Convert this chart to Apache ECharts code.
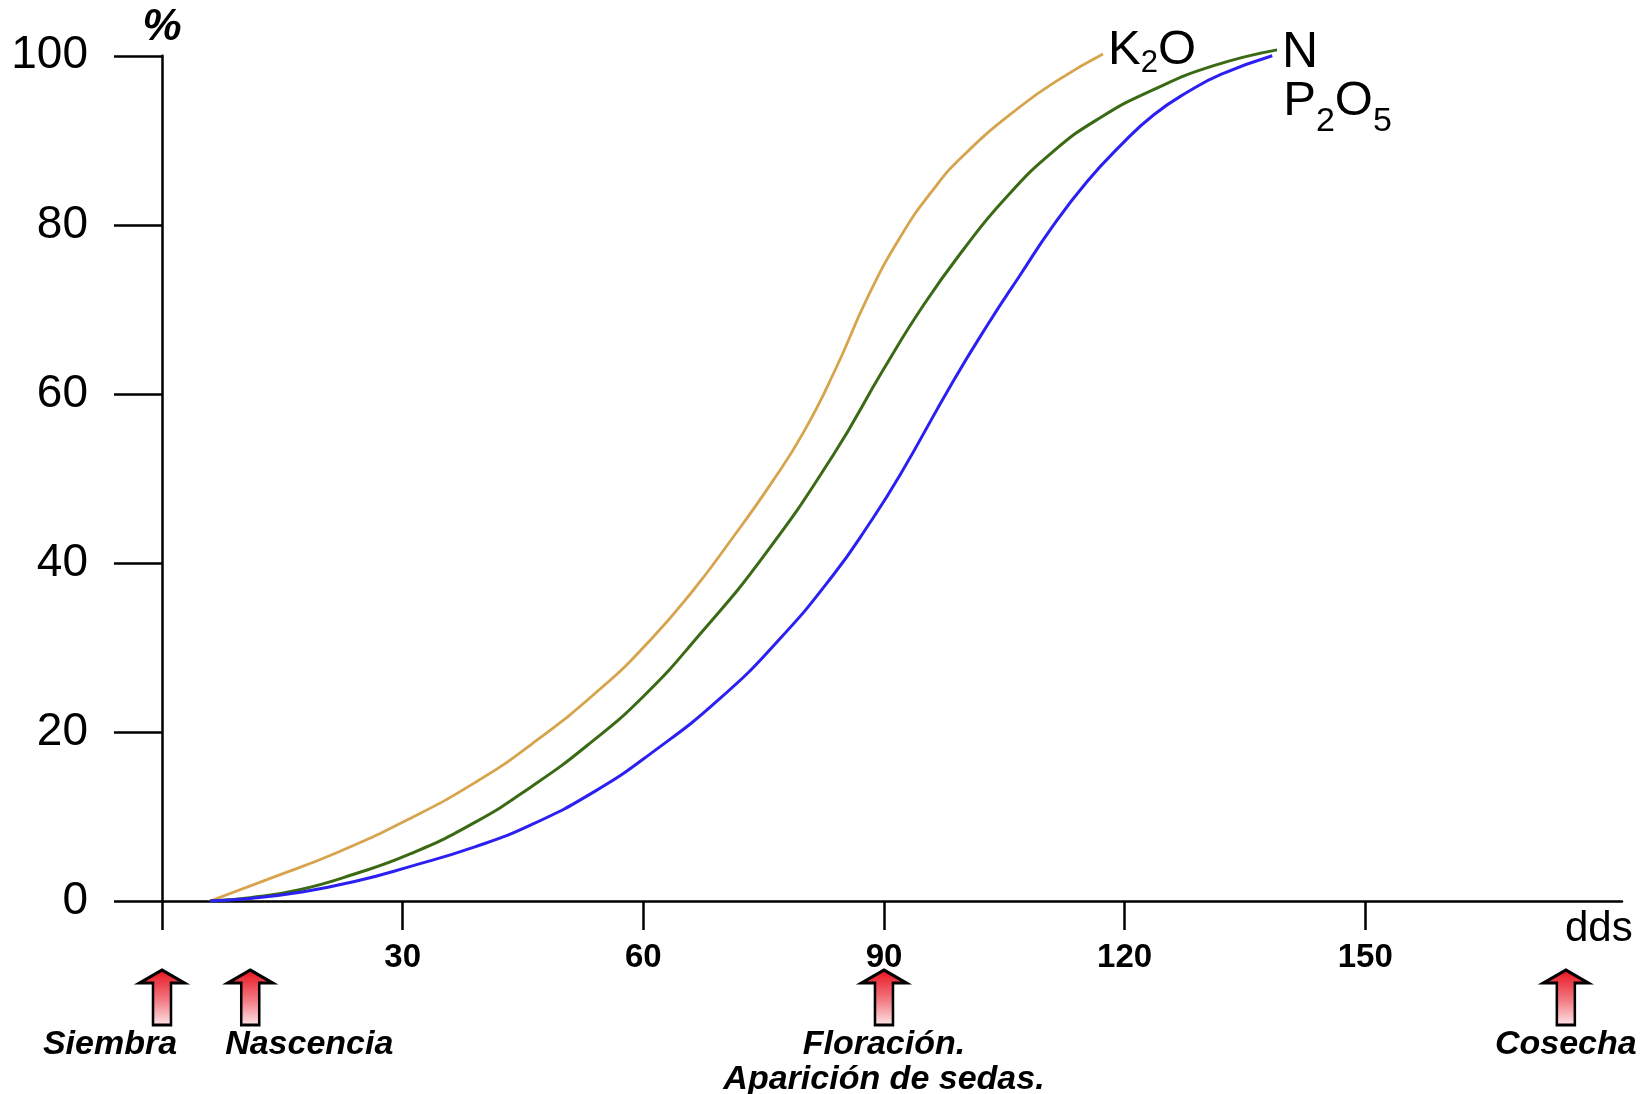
<!DOCTYPE html>
<html>
<head>
<meta charset="utf-8">
<script src="https://cdn.jsdelivr.net/npm/echarts@6/dist/echarts.min.js"></script>
<style>
html,body{margin:0;padding:0;background:#ffffff;}
#chart{width:1646px;height:1094px;}
</style>
</head>
<body>
<div id="chart"></div>
<script>
// ---- data ----
const xTickValues = [0, 30, 60, 90, 120, 150];
const xLabelValues = [30, 60, 90, 120, 150];
const yTickValues = [0, 20, 40, 60, 80, 100];

const k2oData = [[6,0],[13,2.5],[22,5.8],[31,9.8],[39,14],[46,18.5],[55,25.4],[61,31],[66,36.5],[71,42.8],[76,49.5],[80,55.5],[84,63],[88,71.5],[92,78.5],[96,84],[100,88.3],[107,94],[112,97.3],[117.3,100.2]];
const nData = [[6,0],[11,0.4],[17,1.3],[24,3.2],[31,5.6],[39,9.3],[46,13.5],[53,18.4],[60,24.2],[67,31.5],[75,40.8],[83.7,52.8],[90,63],[95,70.6],[100,77.2],[105,83],[111,88.6],[117,92.7],[123.6,96.0],[131,98.8],[139,100.7]];
const p2o5Data = [[6,0],[11,0.3],[17,1.0],[24,2.3],[31,4.1],[39,6.4],[46,9.0],[54,13],[61,17.5],[69.6,24],[77,31],[83.7,38.6],[88,44.4],[92,50.4],[98.5,61.3],[103,68.3],[107,74.1],[111,79.8],[115.3,85.1],[119.5,89.4],[123.6,93.0],[128,95.8],[132,97.8],[138.4,100]];

const stageDays = [0, 11, 90, 175];
const stageNames = ['Siembra', 'Nascencia', 'Floración.\nAparición de sedas.', 'Cosecha'];
const stageLabelShift = [-52, 59, 0, 0];

const xName = 'dds';
const yName = '%';

// ---- chart ----
const F = '"Liberation Sans", Arial, Helvetica, sans-serif';
const INK = '#000000';
const chart = echarts.init(document.getElementById('chart'), null, {renderer: 'canvas'});

const arrowPath = 'path://M22.5,0 L45,13 L31.5,13 L31.5,55 L13.5,55 L13.5,13 L0,13 Z';
const arrowFill = new echarts.graphic.LinearGradient(0, 0, 0, 1, [
  {offset: 0, color: '#e8101a'},
  {offset: 0.55, color: '#f27a84'},
  {offset: 1, color: '#fdeaec'}
]);

const option = {
  animation: false,
  backgroundColor: '#ffffff',
  grid: {left: 162, right: 24, top: 55.8, bottom: 193, containLabel: false, outerBoundsMode: 'none'},
  xAxis: {
    type: 'value', min: 0, max: 182,
    axisLine: {show: true, onZero: false, lineStyle: {color: INK, width: 2.5}},
    axisTick: {show: true, inside: false, length: 29, lineStyle: {color: INK, width: 2.5}, customValues: xTickValues},
    axisLabel: {show: true, margin: 40, color: INK, fontFamily: F, fontSize: 33, fontWeight: 'bold', customValues: xLabelValues},
    splitLine: {show: false}
  },
  yAxis: {
    type: 'value', min: 0, max: 100, interval: 20,
    name: yName, nameLocation: 'end', nameGap: 6,
    nameTextStyle: {color: INK, fontFamily: F, fontSize: 44, fontWeight: 'bold', fontStyle: 'italic', align: 'center', verticalAlign: 'bottom'},
    axisLine: {show: true, onZero: false, lineStyle: {color: INK, width: 2.5}},
    axisTick: {show: true, inside: false, length: 48, lineStyle: {color: INK, width: 2.5}, customValues: yTickValues},
    axisLabel: {show: true, margin: 74, color: INK, fontFamily: F, fontSize: 46, customValues: yTickValues},
    splitLine: {show: false}
  },
  series: [
    {
      name: 'K2O', type: 'line', data: k2oData, smooth: 0.5, showSymbol: false, clip: false,
      lineStyle: {color: '#d6a44c', width: 2.8},
      endLabel: {show: true, formatter: '{m|K}{s|2}{m|O}', distance: 5, offset: [0, -4],
        rich: {m: {fontSize: 49, color: INK, fontFamily: F}, s: {fontSize: 31, color: INK, fontFamily: F, padding: [26, 0, 0, 0]}}}
    },
    {
      name: 'N', type: 'line', data: nData, smooth: 0.5, showSymbol: false, clip: false,
      lineStyle: {color: '#3a6a14', width: 3},
      endLabel: {show: true, formatter: 'N', distance: 5, offset: [0, 3], color: INK, fontFamily: F, fontSize: 50}
    },
    {
      name: 'P2O5', type: 'line', data: p2o5Data, smooth: 0.5, showSymbol: false, clip: false,
      lineStyle: {color: '#2b1ff2', width: 3},
      endLabel: {show: true, formatter: '{m|P}{s|2}{m|O}{s|5}', distance: 11, offset: [0, 46],
        rich: {m: {fontSize: 49, color: INK, fontFamily: F}, s: {fontSize: 34, color: INK, fontFamily: F, padding: [40, 0, 0, 0]}}}
    },
    {
      name: 'stages', type: 'scatter', clip: false, silent: true,
      symbol: arrowPath, symbolSize: [45, 55], symbolOffset: [0, 96.5],
      itemStyle: {color: arrowFill, borderColor: INK, borderWidth: 2.8, opacity: 1},
      label: {show: true, position: 'bottom', distance: 1, color: INK, opacity: 1, fontFamily: F, fontSize: 34,
        fontWeight: 'bold', fontStyle: 'italic', lineHeight: 35, align: 'center',
        formatter: function (p) { return p.name; }},
      data: stageDays.map(function (d, i) {
        return {name: stageNames[i], value: [d, 0], label: {offset: [stageLabelShift[i], 0]}};
      })
    }
  ]
};
chart.setOption(option);

// axis unit placed beside the end of the x axis
const endPt = chart.convertToPixel({xAxisIndex: 0, yAxisIndex: 0}, [182, 0]);
chart.setOption({
  graphic: [{
    type: 'text', x: endPt[0] - 57, y: endPt[1] + 28,
    style: {text: xName, fill: INK, font: '42px ' + F, textAlign: 'left', textVerticalAlign: 'middle'}
  }]
});
</script>
</body>
</html>
